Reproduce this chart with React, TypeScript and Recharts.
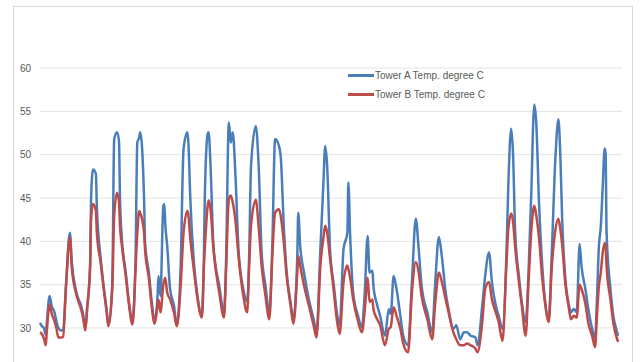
import React from "react";
import { LineChart, Line, XAxis, YAxis, CartesianGrid, Legend } from "recharts";

const hours = [
  0, 2, 4, 6, 7, 10, 12, 15, 17, 19, 22, 24, 27, 31, 33, 37, 40, 42, 45, 47,
  49, 52, 53, 55, 58, 59, 63, 66, 69, 71, 75, 77, 80, 82, 83, 85, 89, 92, 96, 99,
  101, 103, 104, 108, 109, 113, 116, 119, 122, 123, 125, 128, 129, 130, 132, 135, 139, 142, 146, 149,
  153, 154, 156, 160, 163, 168, 170, 171, 174, 175, 177, 180, 186, 191, 193, 196, 198, 200, 203, 206,
  211, 215, 217, 219, 224, 227, 230, 234, 238, 241, 244, 248, 250, 253, 256, 260, 263, 267, 268, 270,
  274, 279, 284, 287, 291, 294, 296, 298, 301, 305, 308, 311, 315, 319, 320, 322, 325, 330, 334, 337,
  340, 342, 345, 346, 350, 353, 358, 362, 364, 367, 370, 374, 377, 382, 386, 390, 393, 396, 402, 407,
  410, 414, 417, 421, 424, 429, 432, 436, 440, 443, 447, 452, 454, 459, 462, 466, 469, 473, 476, 480,
  484, 486, 489, 491, 493, 497, 500, 504, 507, 510, 512, 513, 515, 518, 521, 524, 528, 531, 535, 538,
  540, 542, 545, 549, 551, 554, 557, 560, 562, 566, 569, 573, 576, 578, 580, 582, 584, 586, 587, 588,
  592, 595, 599, 600,
];

const towerA = [
  30.6, 30.2, 30.0, 29.2, 30.5, 33.7, 32.6, 31.8, 30.8, 30.0, 29.7, 29.8, 35.0, 41.0, 37.6, 34.5, 33.3, 32.8, 31.4, 29.9,
  32.5, 37.2, 44.9, 48.3, 47.8, 44.0, 38.0, 34.9, 32.2, 30.3, 35.0, 51.8, 52.6, 51.5, 44.9, 40.3, 36.4, 33.3, 30.7, 37.0,
  51.4, 52.0, 52.6, 44.9, 39.9, 36.4, 33.0, 30.8, 33.7, 36.0, 33.7, 44.1, 44.3, 42.0, 39.5, 34.5, 32.6, 30.3, 37.2, 50.7,
  52.6, 51.4, 44.9, 37.2, 34.1, 31.4, 37.5, 44.9, 52.4, 52.6, 48.7, 39.5, 34.9, 31.8, 37.2, 53.7, 51.4, 52.6, 47.2, 39.1,
  34.5, 33.0, 38.0, 48.7, 53.3, 48.5, 38.7, 34.9, 31.8, 39.1, 51.8, 51.0, 49.5, 41.8, 36.4, 33.0, 31.0, 38.3, 43.3, 39.5,
  36.4, 33.3, 31.0, 29.5, 39.1, 46.4, 51.0, 48.7, 39.1, 34.9, 31.8, 30.3, 39.1, 41.0, 46.8, 40.3, 34.1, 31.4, 30.1, 34.0,
  40.6, 36.4, 36.6, 34.9, 32.6, 31.4, 29.1, 32.2, 31.6, 36.0, 34.5, 31.4, 29.1, 28.0, 35.3, 42.6, 39.1, 34.9, 31.8, 29.5,
  34.9, 40.5, 38.3, 34.1, 32.2, 29.9, 30.3, 28.7, 29.5, 29.5, 29.1, 28.9, 28.0, 32.6, 36.0, 38.7, 35.3, 32.6, 31.4, 29.9,
  38.3, 46.4, 53.0, 49.9, 41.4, 36.0, 33.0, 30.7, 36.4, 46.0, 54.1, 55.8, 53.7, 44.1, 37.6, 33.3, 31.0, 38.3, 49.9, 54.1,
  49.9, 42.2, 36.0, 32.6, 31.8, 32.2, 31.8, 39.7, 37.1, 34.5, 32.2, 29.9, 28.7, 33.3, 39.4, 41.7, 46.3, 50.7, 50.1, 41.0,
  34.5, 31.4, 29.5, 29.1,
];

const towerB = [
  29.5, 29.3, 28.8, 28.0, 29.5, 32.7, 31.7, 30.8, 30.0, 28.9, 28.9, 29.0, 34.8, 40.5, 37.0, 34.2, 33.0, 32.4, 31.0, 29.7,
  32.3, 37.0, 42.5, 44.3, 43.5, 41.0, 37.5, 34.6, 32.0, 30.2, 34.5, 43.0, 45.6, 44.5, 41.8, 39.5, 36.0, 33.0, 30.4, 36.5,
  41.0, 43.5, 43.3, 41.0, 39.1, 35.7, 32.4, 30.5, 32.6, 33.3, 31.8, 35.0, 35.5, 35.8, 34.1, 33.3, 31.8, 30.2, 34.9, 41.0,
  43.5, 43.0, 40.3, 36.4, 33.7, 31.2, 37.0, 39.1, 44.1, 44.7, 43.7, 39.1, 34.1, 31.2, 36.4, 44.9, 45.3, 44.5, 42.2, 38.3,
  33.7, 31.8, 37.0, 41.8, 44.8, 41.5, 37.2, 33.7, 31.0, 38.0, 43.3, 43.7, 42.8, 39.9, 36.0, 32.6, 30.5, 36.4, 38.3, 37.2,
  34.9, 32.6, 30.3, 28.9, 37.2, 40.3, 41.8, 41.0, 38.0, 34.1, 31.0, 29.3, 35.3, 37.2, 36.8, 35.7, 33.3, 30.8, 29.5, 32.0,
  35.8, 33.0, 33.3, 32.2, 31.0, 30.3, 28.0, 29.9, 30.1, 32.4, 31.4, 29.9, 28.2, 27.2, 34.1, 37.6, 36.4, 33.7, 31.0, 28.7,
  32.6, 36.4, 35.3, 33.3, 31.8, 29.5, 28.7, 28.0, 28.0, 28.2, 28.0, 27.6, 27.2, 30.7, 34.5, 35.3, 33.3, 31.8, 30.7, 28.5,
  37.2, 41.4, 43.2, 42.2, 39.5, 35.3, 32.6, 29.1, 35.3, 41.4, 43.7, 44.1, 43.0, 40.3, 36.0, 33.0, 30.7, 36.8, 41.4, 42.6,
  41.4, 39.5, 35.3, 32.2, 31.0, 31.4, 31.2, 35.0, 34.5, 32.8, 30.6, 29.1, 27.8, 31.4, 34.8, 36.4, 38.7, 39.8, 39.4, 37.1,
  33.3, 30.6, 28.7, 28.4,
];

const yTicks = [30, 35, 40, 45, 50, 55, 60];

const seriesA = "Tower A Temp. degree C";
const seriesB = "Tower B Temp. degree C";

const data = hours.map((h, i) => ({ hour: h, a: towerA[i], b: towerB[i] }));

const FONT = "'Liberation Sans', Arial, sans-serif";

const LegendContent = (props: any) => {
  const payload = props.payload || [];
  return (
    <div style={{ fontFamily: FONT, fontSize: 10, color: "#595959" }}>
      {payload.map((p: any) => (
        <div key={p.value} style={{ display: "flex", alignItems: "center", height: 19 }}>
          <span style={{ display: "inline-block", width: 26, height: 3, background: p.color, marginRight: 1 }} />
          <span>{p.value}</span>
        </div>
      ))}
    </div>
  );
};

export default function App() {
  return (
    <div style={{ position: "absolute", left: 0, top: 0, width: 644, height: 362, overflow: "hidden", background: "#fff" }}>
      <div
        style={{
          position: "absolute",
          left: 13,
          top: 6,
          width: 620,
          height: 420,
          border: "1px solid #d9d9d9",
          boxSizing: "border-box",
        }}
      />
      <div style={{ position: "absolute", left: 0, top: 0 }}>
        <LineChart width={644} height={390} data={data} margin={{ top: 68, right: 22, bottom: 18.7, left: 0 }}>
          <CartesianGrid vertical={false} stroke="#e3e3e3" strokeWidth={1} />
          <XAxis dataKey="hour" type="number" domain={[0, 604]} hide />
          <YAxis
            domain={[25, 60]}
            ticks={yTicks}
            width={40}
            axisLine={false}
            tickLine={false}
            tickMargin={3}
            interval={0}
            tick={{ fontSize: 10, fill: "#595959", fontFamily: FONT }}
          />
          <Legend
            content={<LegendContent />}
            layout="horizontal"
            verticalAlign="middle"
            align="center"
            wrapperStyle={{ position: "absolute", left: 348, top: 66, width: 180 }}
          />
          <Line
            type="monotone"
            dataKey="a"
            name={seriesA}
            stroke="#4a7ebb"
            strokeWidth={2.5}
            strokeLinejoin="round"
            dot={false}
            isAnimationActive={false}
          />
          <Line
            type="monotone"
            dataKey="b"
            name={seriesB}
            stroke="#be4b48"
            strokeWidth={2.5}
            strokeLinejoin="round"
            dot={false}
            isAnimationActive={false}
          />
        </LineChart>
      </div>
    </div>
  );
}
